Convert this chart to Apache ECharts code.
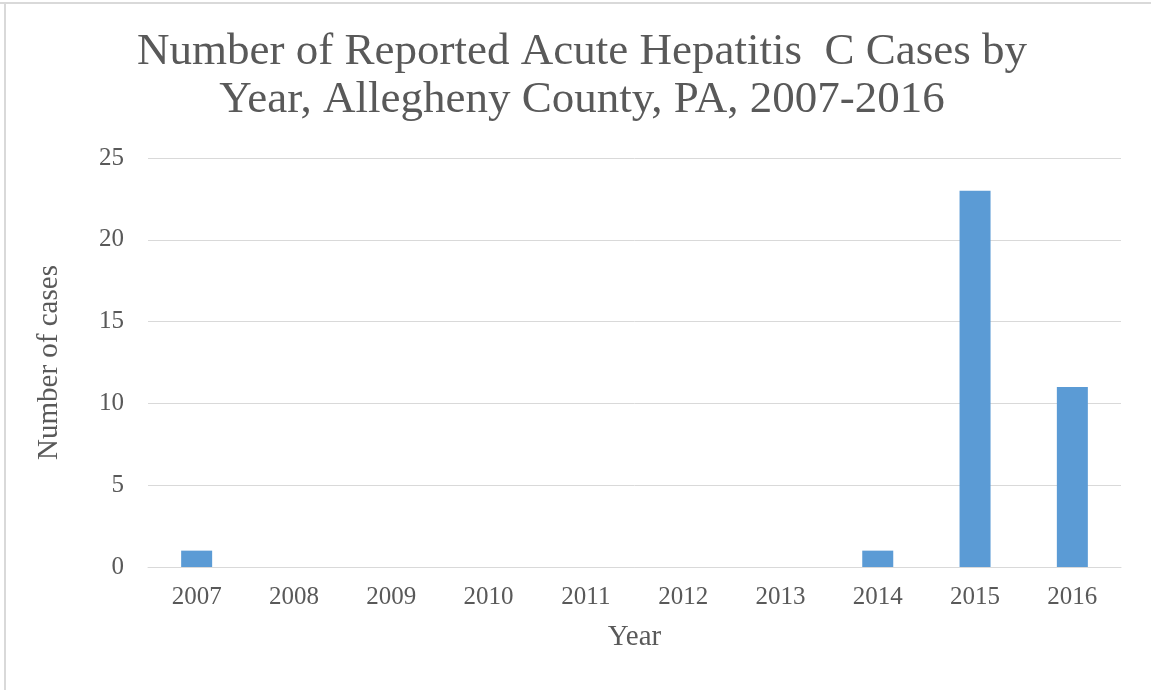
<!DOCTYPE html>
<html>
<head>
<meta charset="utf-8">
<script src="https://cdn.jsdelivr.net/npm/echarts@6/dist/echarts.min.js"></script>
<style>
html,body{margin:0;padding:0;background:#fff;}
#chart{width:1151px;height:690px;}
</style>
</head>
<body>
<div id="chart"></div>
<script>
const titleText = "Number of Reported Acute Hepatitis  C Cases by\nYear, Allegheny County, PA, 2007-2016";
const categories = ["2007","2008","2009","2010","2011","2012","2013","2014","2015","2016"];
const cases = [1,0,0,0,0,0,0,1,23,11];
const yTicks = {min:0, max:25, interval:5};

const chart = echarts.init(document.getElementById('chart'), null, {renderer:'canvas'});
const font = "'Liberation Serif','Times New Roman',serif";
const grey = '#595959';
chart.setOption({
  animation:false,
  backgroundColor:'#fff',
  graphic:[
    {type:'rect', shape:{x:0,y:2,width:1151,height:2}, style:{fill:'#d9d9d9'}},
    {type:'rect', shape:{x:4,y:2,width:2,height:688}, style:{fill:'#d9d9d9'}},
    {type:'text', x:582, y:28, style:{
      text:titleText, align:'center', verticalAlign:'top',
      fontFamily:font, fontSize:45, fontWeight:'normal', fill:grey, lineHeight:48
    }}
  ],
  grid:{left:148,right:30,top:158,bottom:123,containLabel:false},
  xAxis:{
    type:'category',
    data:categories,
    name:'Year',
    nameLocation:'middle',
    nameGap:56,
    nameTextStyle:{fontFamily:font,fontSize:29,color:grey},
    axisLine:{show:true,lineStyle:{color:'#d9d9d9',width:1}},
    axisTick:{show:false},
    axisLabel:{fontFamily:font,fontSize:25,color:grey,margin:18}
  },
  yAxis:{
    type:'value',
    min:yTicks.min,max:yTicks.max,interval:yTicks.interval,
    name:'Number of cases',
    nameLocation:'middle',
    nameGap:84,
    nameTextStyle:{fontFamily:font,fontSize:29,color:grey},
    axisLine:{show:false},
    axisTick:{show:false},
    axisLabel:{fontFamily:font,fontSize:25,color:grey,margin:24},
    splitLine:{lineStyle:{color:'#d9d9d9',width:1}}
  },
  series:[{
    type:'bar',
    data:cases,
    barWidth:31,
    itemStyle:{color:'#5B9BD5'}
  }]
});
</script>
</body>
</html>
